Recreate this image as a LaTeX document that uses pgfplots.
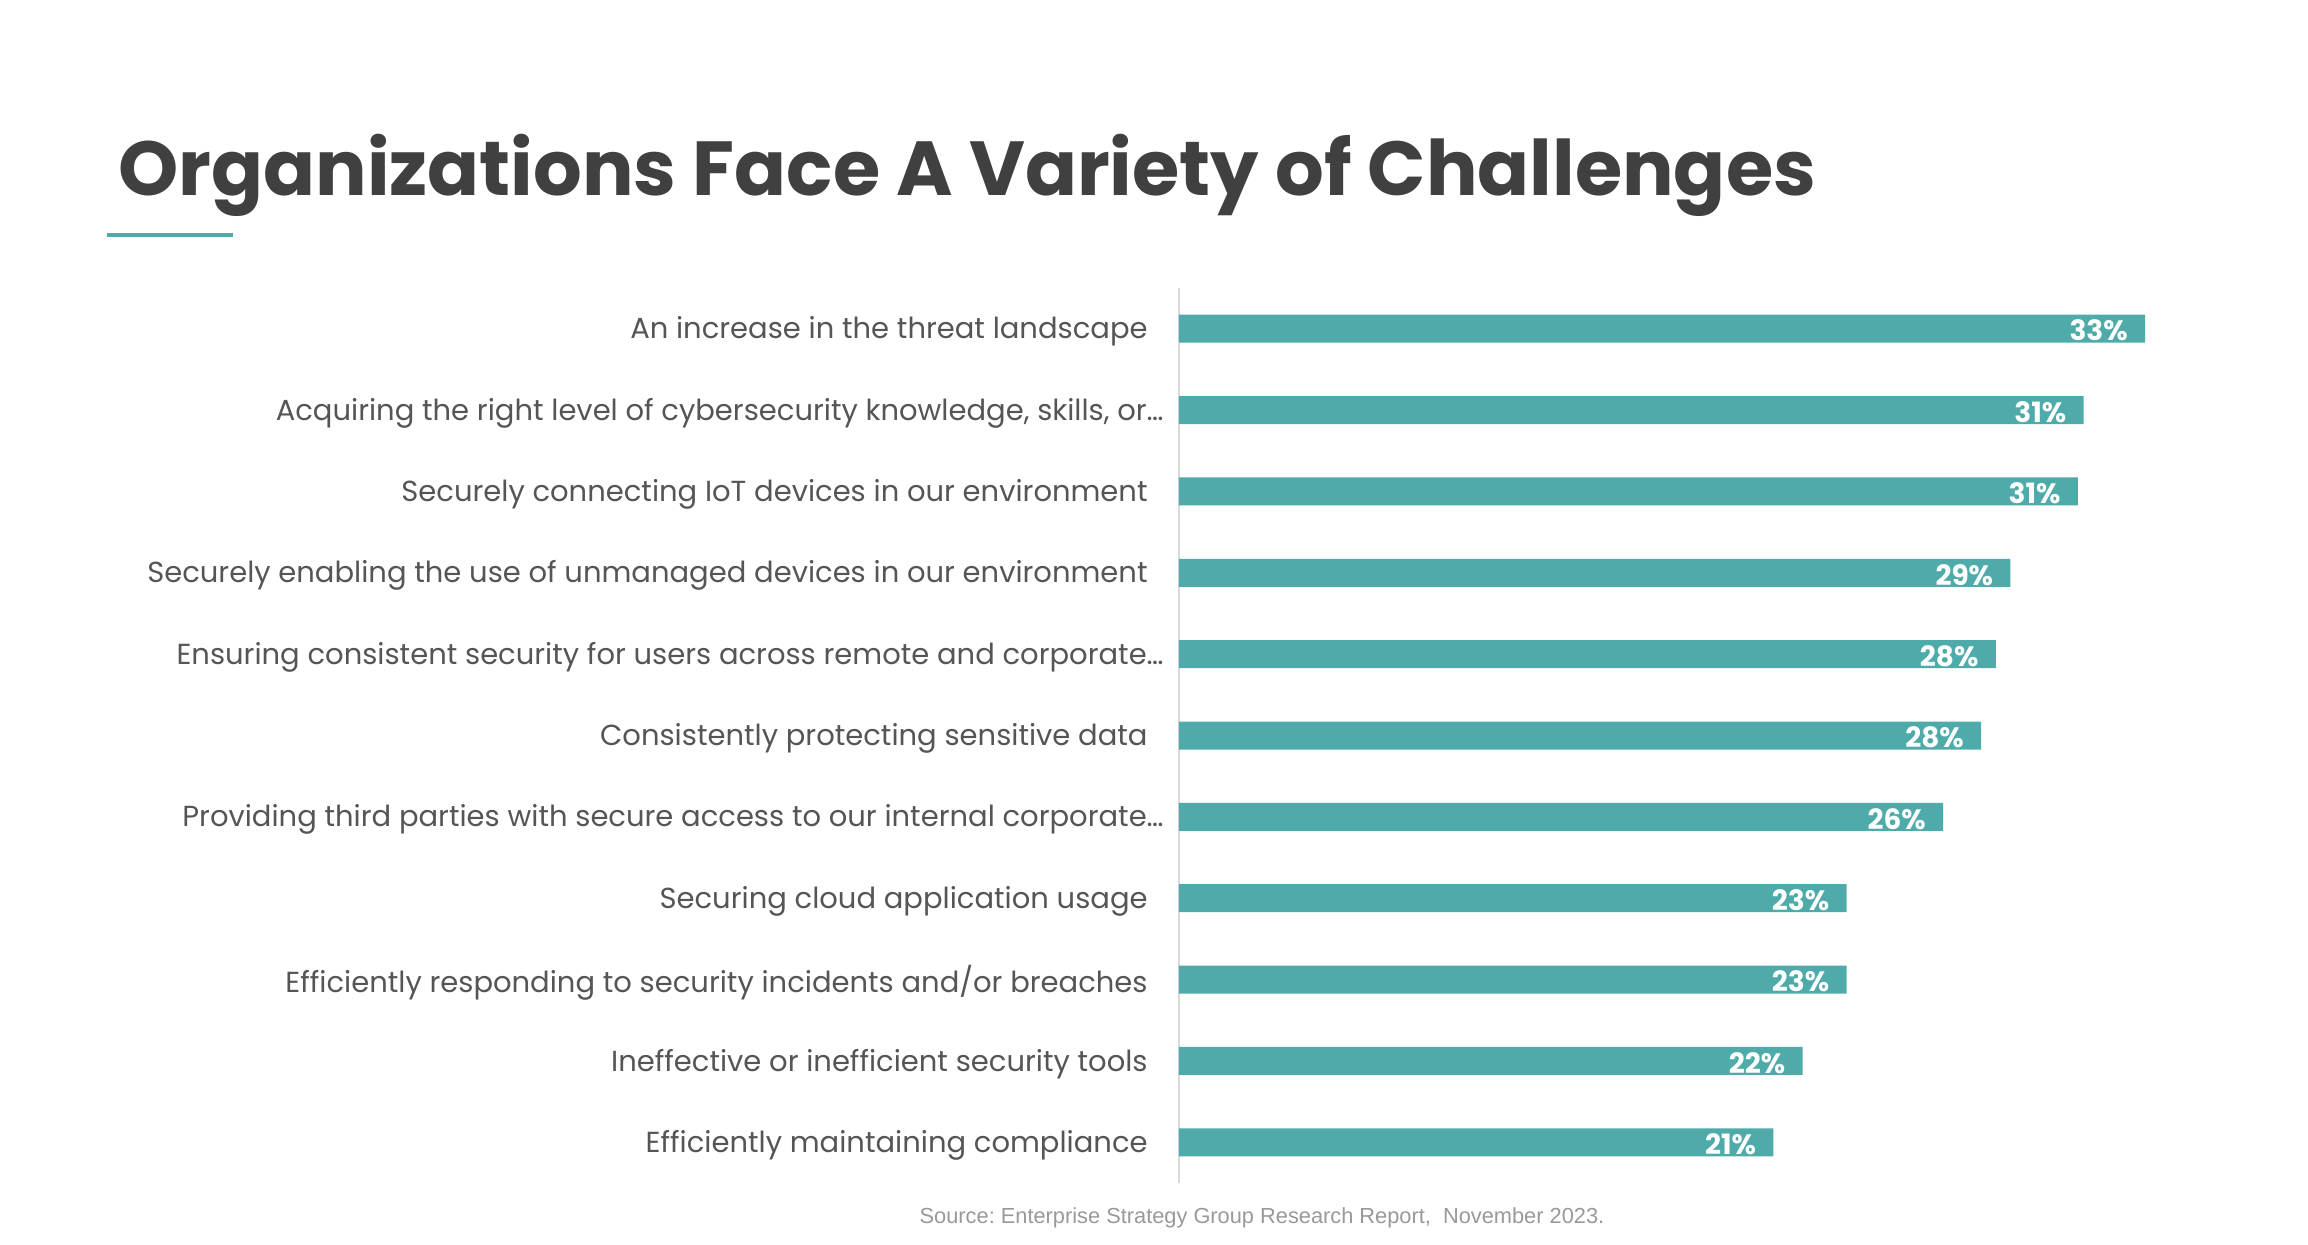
\documentclass[border=0pt]{standalone}
\usepackage{pgfplots}
\pgfplotsset{compat=1.18}
\usepackage{fontspec}
\setmainfont{Poppins}
\newfontfamily\arialfont{Liberation Sans}
\definecolor{barteal}{HTML}{4EABA9}
\definecolor{labtxt}{HTML}{555555}
\definecolor{titletxt}{HTML}{404040}
\definecolor{srctxt}{HTML}{999999}
\definecolor{axgray}{HTML}{D9D9D9}
\frenchspacing
\begin{document}
\begin{tikzpicture}
\path[use as bounding box] (0pt,0pt) rectangle (1154pt,622pt);
\node[anchor=base west, inner sep=0, font=\fontsize{38.3}{38.3}\selectfont\bfseries, text=titletxt] at (59pt,524pt) {Organizations Face A Variety of Challenges};
\fill[barteal] (53.5pt,503.5pt) rectangle (116.5pt,505.5pt);
\node[anchor=base, inner sep=0, font=\arialfont\fontsize{10.9}{10.9}\selectfont, text=srctxt] at (631pt,10.5pt) {Source: Enterprise Strategy Group Research Report,\ \ November 2023.};
\begin{axis}[
  at={(589.5pt,30.5pt)}, anchor=south west,
  scale only axis, width=527pt, height=447.5pt,
  xmin=0, xmax=36, ymin=0.5, ymax=11.5,
  axis x line=none,
  axis y line=left,
  y axis line style={draw=axgray, line width=1pt, -},
  ytick={1,2,3,4,5,6,7,8,9,10,11},
  major tick length=0pt,
  yticklabels={
    Efficiently maintaining compliance\kern8pt,
    Ineffective or inefficient security tools\kern8pt,
    Efficiently responding to security incidents and/or breaches\kern8pt,
    Securing cloud application usage\kern8pt,
    Providing third parties with secure access to our internal corporate…,
    Consistently protecting sensitive data\kern8pt,
    Ensuring consistent security for users across remote and corporate…,
    Securely enabling the use of unmanaged devices in our environment\kern8pt,
    Securely connecting IoT devices in our environment\kern8pt,
    {Acquiring the right level of cybersecurity knowledge, skills, or…},
    An increase in the threat landscape\kern8pt
  },
  yticklabel style={font=\fontsize{14.5}{14.5}\selectfont, text=labtxt, anchor=east, inner sep=0pt, xshift=-7.5pt, yshift=-1.5pt},
  clip=false,
]
\addplot[xbar, bar width=14pt, fill=barteal, draw=none,
  nodes near coords, point meta=explicit symbolic,
  every node near coord/.append style={anchor=east, inner sep=0pt, xshift=-8.5pt, yshift=-1pt, font=\bfseries\fontsize{14}{14}\selectfont, text=white}]
coordinates {
  (20.3,1) [21\%]
  (21.3,2) [22\%]
  (22.8,3) [23\%]
  (22.8,4) [23\%]
  (26.1,5) [26\%]
  (27.4,6) [28\%]
  (27.9,7) [28\%]
  (28.4,8) [29\%]
  (30.7,9) [31\%]
  (30.9,10) [31\%]
  (33.0,11) [33\%]
};
\end{axis}
\end{tikzpicture}
\end{document}
